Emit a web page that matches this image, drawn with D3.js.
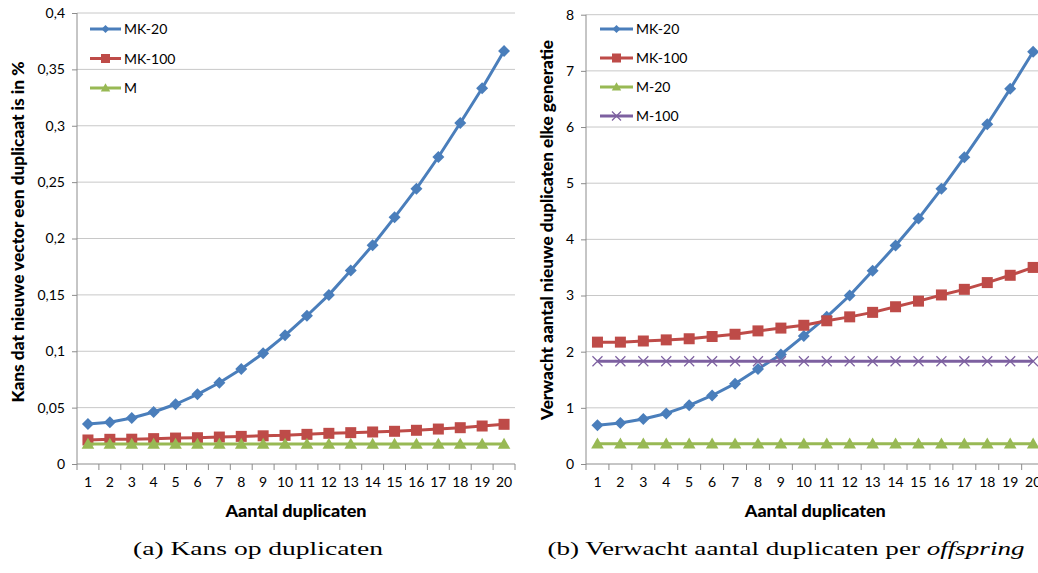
<!DOCTYPE html>
<html><head><meta charset="utf-8">
<script src="https://cdn.jsdelivr.net/npm/d3@7"></script>
<style>
html,body{margin:0;padding:0;background:#fff;}
svg{display:block;}
</style></head><body>
<svg id="c" width="1038" height="573"></svg>
<script>
const categories = d3.range(1, 21).map(String);
// Chart (a)
const aMK20  = [0.0355,0.037,0.0408,0.0461,0.053,0.0618,0.0721,0.0843,0.0982,0.1141,0.1315,0.150,0.1717,0.194,0.2188,0.2442,0.2723,0.3024,0.3332,0.3663];
const aMK100 = [0.0213,0.0219,0.022,0.0225,0.023,0.0233,0.0239,0.0245,0.025,0.0254,0.0263,0.0272,0.0278,0.0284,0.029,0.0299,0.031,0.0322,0.0337,0.0352];
const aM     = Array(20).fill(0.0177);
const aTicks = [0,0.05,0.1,0.15,0.2,0.25,0.3,0.35,0.4];
// Chart (b)
const bMK20  = [0.69,0.73,0.80,0.90,1.045,1.22,1.43,1.69,1.95,2.28,2.62,3.00,3.44,3.89,4.37,4.90,5.46,6.05,6.68,7.34];
const bMK100 = [2.17,2.17,2.19,2.21,2.23,2.27,2.31,2.37,2.42,2.47,2.55,2.62,2.70,2.80,2.90,3.01,3.11,3.23,3.36,3.50];
const bM20   = Array(20).fill(0.36);
const bM100  = Array(20).fill(1.83);
const bTicks = [0,1,2,3,4,5,6,7,8];

const C = {blue:"#4a7ebb", red:"#be4b48", green:"#98b954", purple:"#7d60a0"};
const svg = d3.select("#c");
const font = '"Lato","Open Sans",sans-serif';

function marker(g, type, color, x, y, s) {
  if (type === "diamond") {
    g.append("path").attr("d", `M${x},${y-s}L${x+s},${y}L${x},${y+s}L${x-s},${y}Z`).attr("fill", color);
  } else if (type === "square") {
    g.append("rect").attr("x", x-s).attr("y", y-s).attr("width", 2*s).attr("height", 2*s).attr("fill", color);
  } else if (type === "triangle") {
    g.append("path").attr("d", `M${x},${y-s*1.05}L${x+s*1.05},${y+s*0.8}L${x-s*1.05},${y+s*0.8}Z`).attr("fill", color);
  } else if (type === "x") {
    g.append("path").attr("d", `M${x-s},${y-s}L${x+s},${y+s}M${x-s},${y+s}L${x+s},${y-s}`).attr("stroke", color).attr("stroke-width", 1.2).attr("fill","none");
  }
}

function chart(o) {
  const x = d3.scaleBand().domain(categories).range([o.x0, o.x1]).padding(0);
  const y = d3.scaleLinear().domain([o.ticks[0], o.ticks[o.ticks.length-1]]).range([o.y0, o.y1]);
  const g = svg.append("g");
  // gridlines
  g.append("g").selectAll("line").data(o.ticks.slice(1)).join("line")
    .attr("x1", o.x0).attr("x2", o.x1).attr("y1", d=>y(d)).attr("y2", d=>y(d))
    .attr("stroke", "#c8c8c8").attr("stroke-width", 1);
  // y axis
  const ya = g.append("g").attr("transform", `translate(${o.x0},0)`)
    .call(d3.axisLeft(y).tickValues(o.ticks).tickSize(5).tickPadding(7).tickFormat(d => String(d).replace(".", ",")));
  ya.select(".domain").attr("stroke", "#8c8c8c").attr("d", `M0,${o.y1}V${o.y0}`);
  ya.selectAll(".tick line").attr("stroke", "#8c8c8c");
  ya.selectAll("text").attr("font-size", 14).attr("fill", "#000").attr("font-family", font);
  // x axis
  const xa = g.append("g").attr("transform", `translate(0,${o.y0})`)
    .call(d3.axisBottom(x).tickSize(0).tickPadding(13));
  xa.select(".domain").attr("stroke", "#8c8c8c").attr("d", `M${o.x0},0H${o.x1}`);
  xa.selectAll("text").attr("font-size", 14).attr("fill", "#000").attr("font-family", font);
  // boundary ticks
  xa.append("g").selectAll("line").data(d3.range(0, categories.length+1)).join("line")
    .attr("x1", i => o.x0 + i*x.step()).attr("x2", i => o.x0 + i*x.step())
    .attr("y1", 0).attr("y2", 6).attr("stroke", "#8c8c8c");
  // series
  const cx = c => x(c) + x.bandwidth()/2;
  o.series.forEach(s => {
    const line = d3.line().x((d,i) => cx(categories[i])).y(d => y(d));
    g.append("path").datum(s.values).attr("d", line).attr("fill", "none")
      .attr("stroke", s.color).attr("stroke-width", 3).attr("stroke-linejoin", "round");
    const mg = g.append("g");
    s.values.forEach((v,i) => marker(mg, s.marker, s.color, cx(categories[i]), y(v), s.size));
  });
  // legend
  o.series.forEach((s, i) => {
    const ly = o.legY + i*o.legDy;
    g.append("line").attr("x1", o.legX).attr("x2", o.legX+o.legW).attr("y1", ly).attr("y2", ly)
      .attr("stroke", s.color).attr("stroke-width", 3);
    marker(g, s.marker, s.color, o.legX+o.legW/2, ly, s.marker === "diamond" ? 4 : 4.5);
    g.append("text").attr("x", o.legX+o.legW+3).attr("y", ly).attr("dy", "0.36em")
      .attr("font-size", 14).attr("font-family", font).text(s.name);
  });
  // axis titles
  g.append("text").attr("x", (o.x0+o.x1)/2).attr("y", 517).attr("text-anchor", "middle")
    .attr("font-size", 16).attr("font-weight", "900").attr("font-family", font)
    .attr("textLength", 141).attr("lengthAdjust", "spacingAndGlyphs").text("Aantal duplicaten");
  g.append("text").attr("transform", `translate(${o.ytX},${o.ytY}) rotate(-90)`)
    .attr("text-anchor", "middle").attr("font-size", 16).attr("font-weight", "900")
    .attr("font-family", font).attr("textLength", o.ytLen).attr("lengthAdjust", "spacingAndGlyphs").text(o.yTitle);
  // caption
  g.append("text").attr("x", o.capX).attr("y", 555).attr("text-anchor", "middle")
    .attr("font-size", 19).attr("font-family", '"Liberation Serif","DejaVu Serif",serif')
    .attr("textLength", o.capLen).attr("lengthAdjust", "spacingAndGlyphs")
    .html(o.caption);
}

chart({
  x0: 77, x1: 515, y0: 464, y1: 13, ticks: aTicks,
  series: [
    {name:"MK-20", values:aMK20, color:C.blue, marker:"diamond", size:6},
    {name:"MK-100", values:aMK100, color:C.red, marker:"square", size:5.5},
    {name:"M", values:aM, color:C.green, marker:"triangle", size:6}
  ],
  legX: 90, legY: 29, legDy: 29.5, legW: 31,
  ytX: 24, ytY: 232, ytLen: 341, yTitle: "Kans dat nieuwe vector een duplicaat is in %",
  capX: 258, capLen: 250, caption: "(a) Kans op duplicaten"
});
chart({
  x0: 586, x1: 1044.6, y0: 464, y1: 14.7, ticks: bTicks,
  series: [
    {name:"MK-20", values:bMK20, color:C.blue, marker:"diamond", size:6},
    {name:"MK-100", values:bMK100, color:C.red, marker:"square", size:5.5},
    {name:"M-20", values:bM20, color:C.green, marker:"triangle", size:6},
    {name:"M-100", values:bM100, color:C.purple, marker:"x", size:5}
  ],
  legX: 600, legY: 29, legDy: 29, legW: 33,
  ytX: 553, ytY: 230, ytLen: 380, yTitle: "Verwacht aantal nieuwe duplicaten elke generatie",
  capX: 786, capLen: 477, caption: '(b) Verwacht aantal duplicaten per <tspan font-style="italic">offspring</tspan>'
});
</script>
</body></html>
